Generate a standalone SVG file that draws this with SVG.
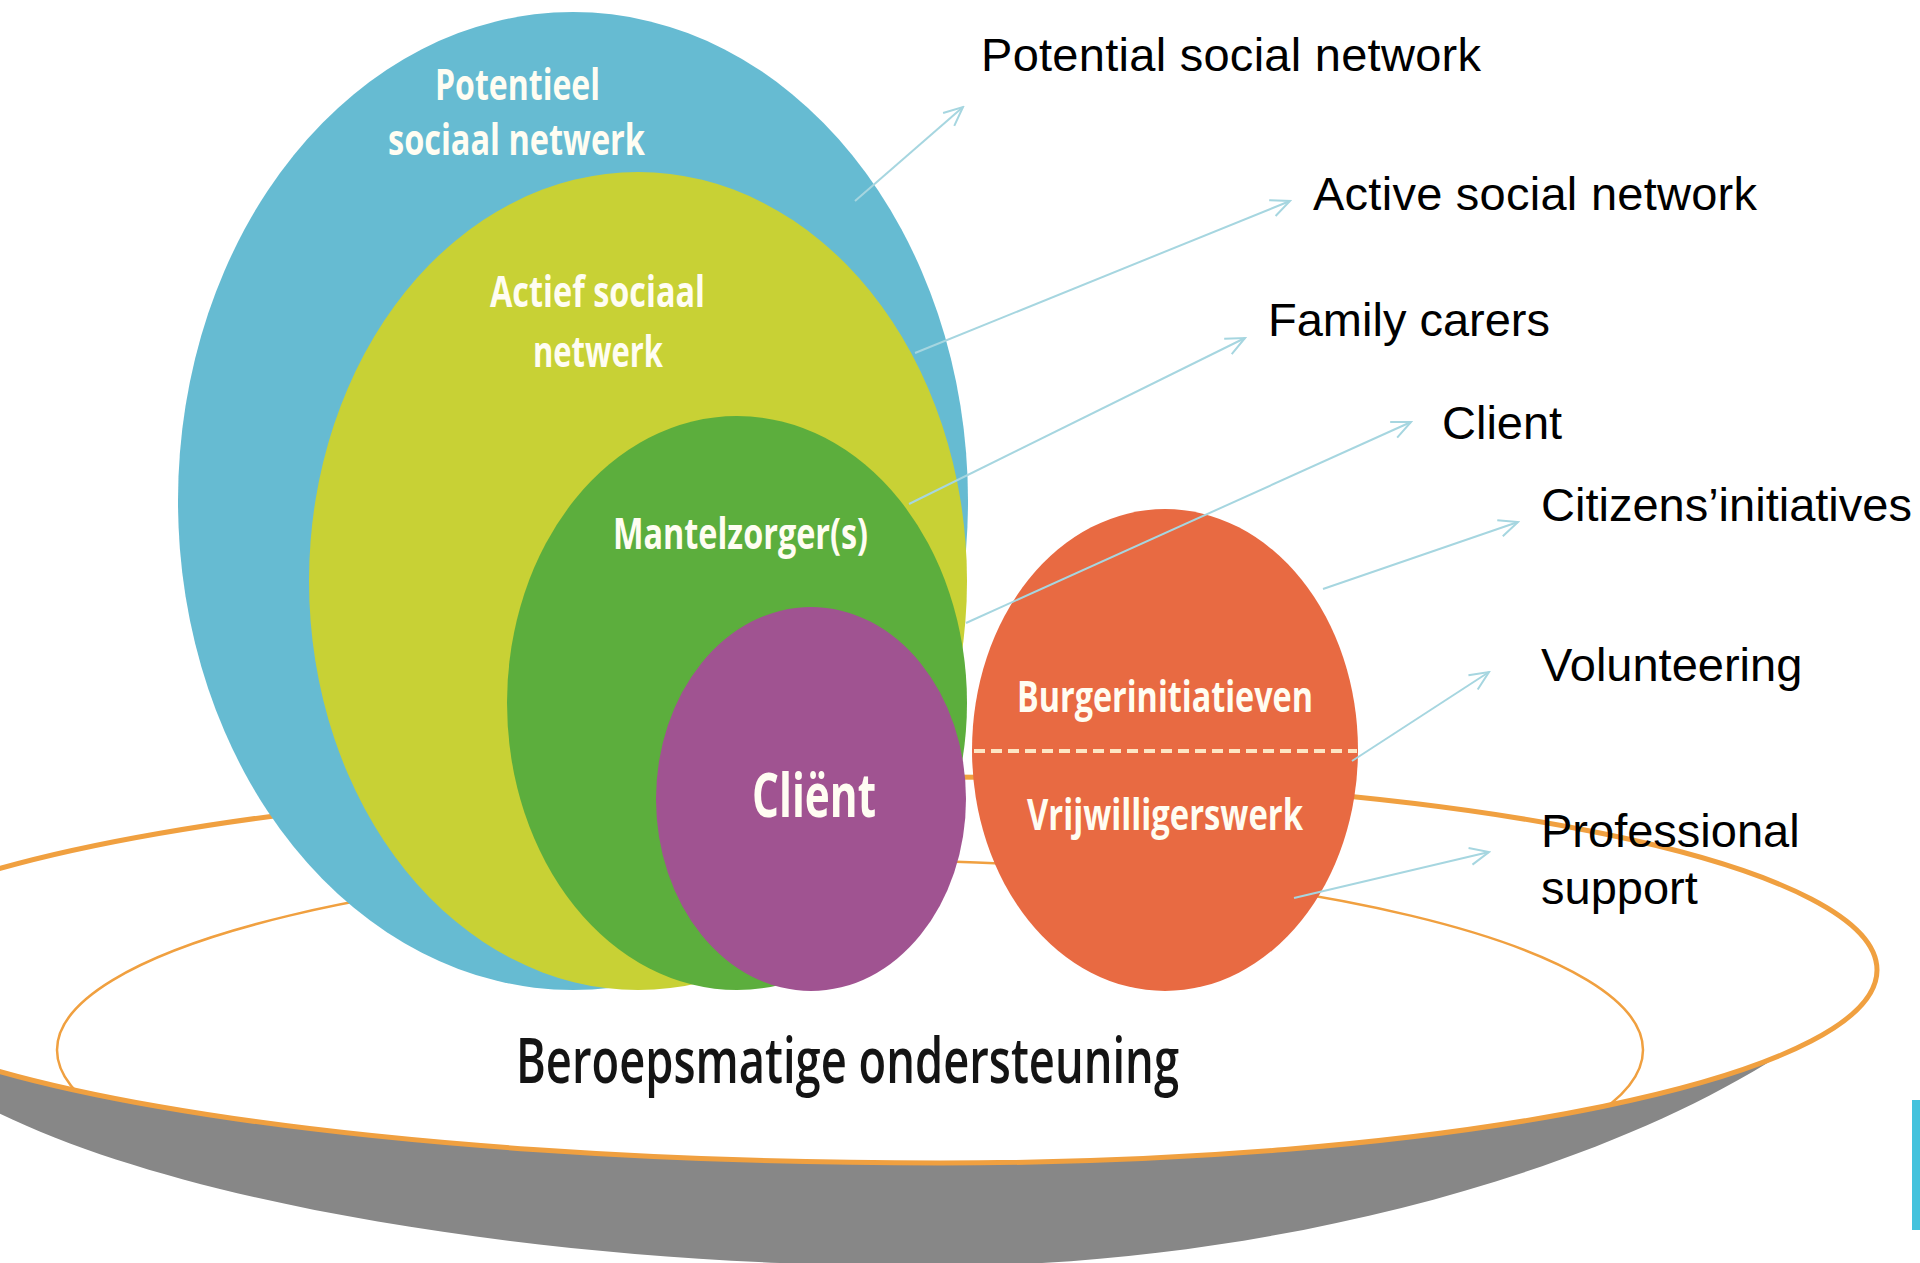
<svg xmlns="http://www.w3.org/2000/svg" width="1920" height="1263" viewBox="0 0 1920 1263">
  <defs>
    <style>
      .in { font-family: "Open Sans", "DejaVu Sans", sans-serif; font-weight: 700; fill: #fffdf2; }
      .lbl { font-family: "Liberation Sans", Arial, sans-serif; font-size: 47px; fill: #000; }
      .conn { stroke: #a6d6e0; stroke-width: 2; fill: none; marker-end: url(#arr); }
    </style>
    <marker id="arr" viewBox="-22 -11 24 22" markerWidth="24" markerHeight="22" refX="0" refY="0" orient="auto" markerUnits="userSpaceOnUse">
      <path d="M -19,-8.5 L 0,0 L -19,8.5" fill="none" stroke="#a6d6e0" stroke-width="2"/>
    </marker>
    <clipPath id="plateClip">
      <path d="M 940,777 A 937,193 0 0,1 940,1163 A 1105,193 0 0,1 940,777 Z"/>
    </clipPath>
  </defs>
  <rect width="1920" height="1263" fill="#ffffff"/>

  <g id="plate">
    <path d="M 1870,985 C 1700,1150 1300,1266 940,1266 C 550,1268 120,1200 -60,1080 L -60,970 L 1870,970 Z" fill="#878787"/>
    <path d="M 940,777 A 937,193 0 0,1 940,1163 A 1105,193 0 0,1 940,777 Z" fill="#ffffff"/>
    <ellipse cx="850" cy="1050" rx="793" ry="190" fill="none" stroke="#f0a040" stroke-width="2.5" clip-path="url(#plateClip)"/>
    <path d="M 940,777 A 937,193 0 0,1 940,1163 A 1105,193 0 0,1 940,777 Z" fill="none" stroke="#f0a040" stroke-width="5"/>
    <text x="516" y="1083" font-family="Open Sans, DejaVu Sans, sans-serif" font-weight="600" font-size="63" fill="#141414" textLength="663" lengthAdjust="spacingAndGlyphs">Beroepsmatige ondersteuning</text>
  </g>

  <g id="potential">
    <ellipse cx="573" cy="501" rx="395" ry="489" fill="#66bbd2"/>
    <text class="in" x="435" y="100" font-size="43" textLength="165" lengthAdjust="spacingAndGlyphs">Potentieel</text>
    <text class="in" x="388" y="155" font-size="43" textLength="257" lengthAdjust="spacingAndGlyphs">sociaal netwerk</text>
  </g>

  <g id="active">
    <ellipse cx="638" cy="581" rx="329" ry="409" fill="#c8d135"/>
    <text class="in" x="490" y="307" font-size="43" textLength="215" lengthAdjust="spacingAndGlyphs">Actief sociaal</text>
    <text class="in" x="533" y="367" font-size="43" textLength="130" lengthAdjust="spacingAndGlyphs">netwerk</text>
  </g>

  <g id="carers">
    <ellipse cx="737" cy="703" rx="230" ry="287" fill="#5cae3d"/>
    <text class="in" x="613" y="549" font-size="43" textLength="255" lengthAdjust="spacingAndGlyphs" fill="#f2fce6">Mantelzorger(s)</text>
  </g>

  <g id="client">
    <ellipse cx="811" cy="799" rx="155" ry="192" fill="#a05391"/>
    <text class="in" x="752" y="817" font-size="60" textLength="124" lengthAdjust="spacingAndGlyphs">Cliënt</text>
  </g>

  <g id="citizens">
    <ellipse cx="1165" cy="750" rx="193" ry="241" fill="#e86a42"/>
    <line x1="974" y1="751" x2="1357" y2="751" stroke="#fde6c4" stroke-width="4" stroke-dasharray="11,6"/>
    <text class="in" x="1017" y="712" font-size="43" textLength="296" lengthAdjust="spacingAndGlyphs">Burgerinitiatieven</text>
    <text class="in" x="1027" y="830" font-size="43" textLength="276" lengthAdjust="spacingAndGlyphs">Vrijwilligerswerk</text>
  </g>

  <g id="connectors">
    <line class="conn" x1="855" y1="201" x2="963" y2="107"/>
    <line class="conn" x1="915" y1="353" x2="1290" y2="201"/>
    <line class="conn" x1="909" y1="504" x2="1245" y2="338"/>
    <line class="conn" x1="966" y1="623" x2="1411" y2="422"/>
    <line class="conn" x1="1323" y1="589" x2="1518" y2="522"/>
    <line class="conn" x1="1352" y1="761" x2="1489" y2="672"/>
    <line class="conn" x1="1294" y1="898" x2="1489" y2="852"/>
  </g>

  <g id="labels">
    <text class="lbl" x="981" y="71" textLength="500">Potential social network</text>
    <text class="lbl" x="1313" y="210" textLength="444">Active social network</text>
    <text class="lbl" x="1268" y="336">Family carers</text>
    <text class="lbl" x="1442" y="439">Client</text>
    <text class="lbl" x="1541" y="521">Citizens’initiatives</text>
    <text class="lbl" x="1541" y="681">Volunteering</text>
    <text class="lbl" x="1541" y="847">Professional</text>
    <text class="lbl" x="1541" y="904">support</text>
  </g>

  <rect id="edge-bar" x="1912" y="1100" width="8" height="130" fill="#44c2dd"/>
</svg>
